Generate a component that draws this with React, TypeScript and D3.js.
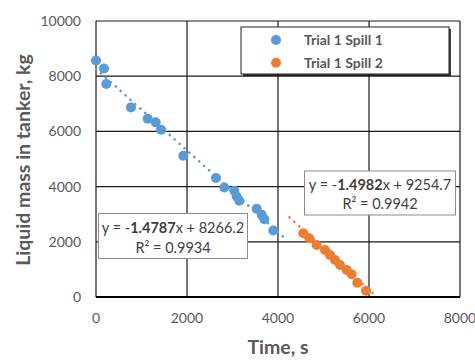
import React from "react";
import * as d3 from "d3";

const spill1Time = [0, 176, 226, 769, 1136, 1312, 1429, 1919, 2637, 2820, 3040, 3092, 3149, 3532, 3642, 3699, 3897];
const spill1Mass = [8566, 8276, 7720, 6870, 6461, 6327, 6062, 5118, 4309, 3967, 3848, 3641, 3485, 3194, 2976, 2820, 2407];
const spill2Time = [4556, 4688, 4851, 5033, 5143, 5253, 5363, 5510, 5620, 5743, 5934];
const spill2Mass = [2312, 2131, 1887, 1706, 1524, 1343, 1162, 980, 824, 519, 229];

const seriesNames = ["Trial 1 Spill 1", "Trial 1 Spill 2"];
const trend1 = { slope: -1.4787, intercept: 8266.2, r2: "0.9934", from: 0, to: 4110 };
const trend2 = { slope: -1.4982, intercept: 9254.7, r2: "0.9942", from: 4250, to: 6177 };
const xTicks = [0, 2000, 4000, 6000, 8000];
const yTicks = [0, 2000, 4000, 6000, 8000, 10000];

const BLUE = "#5B9BD5";
const ORANGE = "#ED7D31";
const FONT = "Lato, 'Liberation Sans', sans-serif";
const GRAY = "#595959";

export default function App() {
  const W = 475, H = 360;
  const x = d3.scaleLinear().domain([0, 8000]).range([96, 460]);
  const y = d3.scaleLinear().domain([0, 10000]).range([297, 21]);
  const line = d3.line<number>().x(d => x(d[0])).y(d => y(d[1]));
  const trendPts = (t: typeof trend1) => [t.from, t.to].map(v => [v, t.slope * v + t.intercept]);
  const s1 = spill1Time.map((t, i) => [t, spill1Mass[i]]);
  const s2 = spill2Time.map((t, i) => [t, spill2Mass[i]]);

  return (
    <svg width={W} height={H} style={{ position: "absolute", left: 0, top: 0, background: "#fff" }} fontFamily={FONT}>
      <rect x={0} y={0} width={W} height={H} fill="#fff" />
      {/* grid */}
      {yTicks.map(v => (
        <line key={"gy" + v} x1={x(0)} x2={x(8000)} y1={y(v)} y2={y(v)} stroke="#1a1a1a" strokeWidth={1.2} />
      ))}
      {xTicks.map(v => (
        <line key={"gx" + v} x1={x(v)} x2={x(v)} y1={y(0)} y2={y(10000)} stroke="#1a1a1a" strokeWidth={1.2} />
      ))}
      <line x1={x(0)} x2={x(8000)} y1={y(0)} y2={y(0)} stroke="#000" strokeWidth={1.8} />
      {/* tick labels */}
      {yTicks.map(v => (
        <text key={"ty" + v} x={81} y={y(v)} dy="0.35em" textAnchor="end" fontSize={14} fill={GRAY}>{v}</text>
      ))}
      {xTicks.map(v => (
        <text key={"tx" + v} x={x(v)} y={323} textAnchor="middle" fontSize={14} fill={GRAY}>{v}</text>
      ))}
      {/* axis titles */}
      <text x={278} y={354} textAnchor="middle" fontSize={19.5} fontWeight="bold" fill={GRAY}>Time, s</text>
      <text transform="translate(30,160) rotate(-90)" textAnchor="middle" fontSize={19.5} fontWeight="bold" fill={GRAY}>Liquid mass in tanker, kg</text>
      {/* trendlines */}
      <path d={line(trendPts(trend1) as any) || ""} stroke={BLUE} strokeWidth={2.6} strokeDasharray="0.1 6.5" strokeLinecap="round" fill="none" />
      <path d={line(trendPts(trend2) as any) || ""} stroke={ORANGE} strokeWidth={2.6} strokeDasharray="0.1 6.5" strokeLinecap="round" fill="none" />
      {/* points */}
      {s1.map((p, i) => <circle key={"a" + i} cx={x(p[0])} cy={y(p[1])} r={5} fill={BLUE} />)}
      {s2.map((p, i) => <circle key={"b" + i} cx={x(p[0])} cy={y(p[1])} r={5} fill={ORANGE} />)}
      {/* legend */}
      <rect x={243} y={29} width={208} height={47} fill="#000" opacity={0.75} />
      <rect x={241} y={27} width={208} height={47} fill="#fff" stroke="#222" strokeWidth={1} />
      {seriesNames.map((n, i) => (
        <g key={n}>
          <circle cx={276} cy={40 + i * 22.7} r={5} fill={i === 0 ? BLUE : ORANGE} />
          <text x={304} y={40 + i * 22.7} dy="0.35em" fontSize={14} fontWeight="bold" fill={GRAY}>{n}</text>
        </g>
      ))}
      {/* annotation 1 */}
      <rect x={98.5} y={213.5} width={149} height={45} fill="#fff" stroke="#8c8c8c" strokeWidth={1} />
      <text x={173} y={228} dy="0.35em" textAnchor="middle" fontSize={14.5} fill="#404040">
        y = -<tspan fontWeight="bold">1.4787</tspan>x + 8266.2
      </text>
      <text x={173} y={247.5} dy="0.35em" textAnchor="middle" fontSize={14.5} fill="#404040">
        R² = {trend1.r2}
      </text>
      {/* annotation 2 */}
      <rect x={304.5} y={171} width={151} height={44} fill="#fff" stroke="#8c8c8c" strokeWidth={1} />
      <text x={380} y={185} dy="0.35em" textAnchor="middle" fontSize={14.5} fill="#404040">
        y = -<tspan fontWeight="bold">1.4982</tspan>x + 9254.7
      </text>
      <text x={380} y={203.5} dy="0.35em" textAnchor="middle" fontSize={14.5} fill="#404040">
        R² = {trend2.r2}
      </text>
    </svg>
  );
}
